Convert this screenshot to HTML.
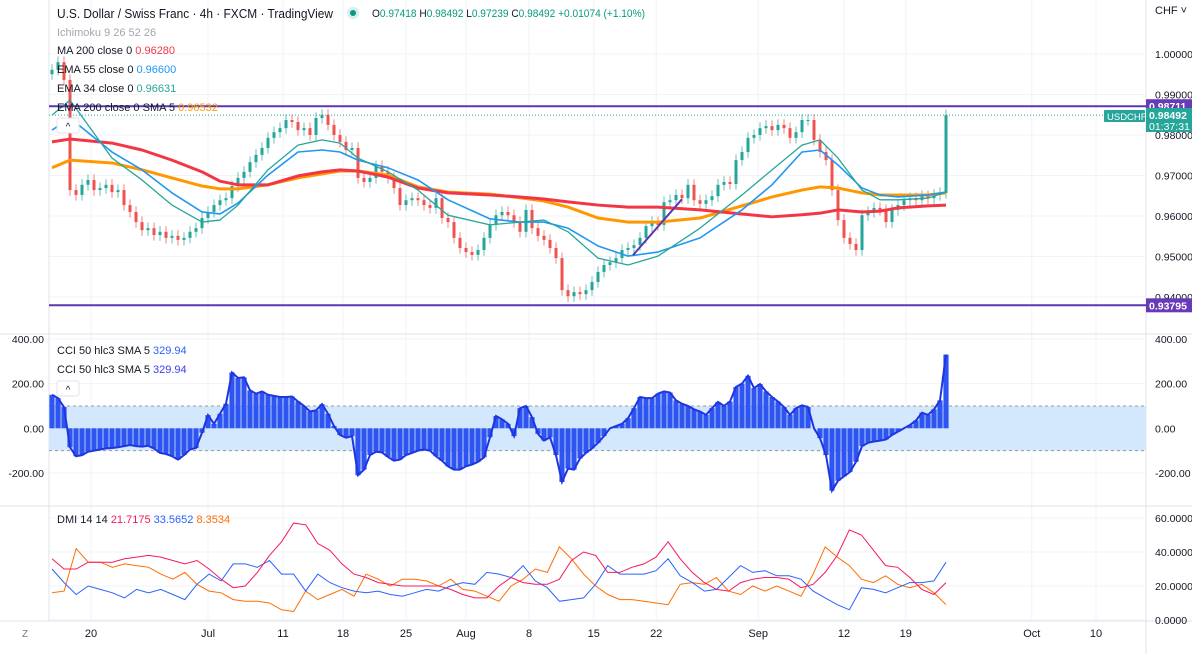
<!DOCTYPE html>
<html><head><meta charset="utf-8"><style>
html,body{margin:0;padding:0;background:#fff;}
svg{display:block;font-family:"Liberation Sans",sans-serif;}
</style></head><body>
<svg id="chart" width="1192" height="654" viewBox="0 0 1192 654" xmlns="http://www.w3.org/2000/svg">
<rect x="0" y="0" width="1192" height="654" fill="#fff"/>
<g id="grid"></g>
<g id="cciBand"></g>
<g id="marks"></g>
<g id="overlay"></g>
</svg>
<script>
// ---------- DATA ----------
const closes = [.9961,.9980,.9936,.9664,.9652,.9677,.9689,.9664,.9669,.9677,.9659,.9664,.9627,.9610,.9585,.9565,.9570,.9553,.9561,.9546,
.9551,.9541,.9546,.9561,.9570,.9595,.9610,.9627,.9639,.9644,.9674,.9694,.9709,.9733,.9751,.9768,.9793,.9807,.9817,.9837,
.9832,.9812,.9817,.9800,.9842,.9850,.9825,.9800,.9783,.9763,.9768,.9694,.9684,.9694,.9723,.9709,.9694,.9669,.9627,.9639,
.9644,.9639,.9627,.9620,.9644,.9595,.9585,.9546,.9521,.9511,.9504,.9516,.9546,.9578,.9602,.9610,.9602,.9585,.9561,.9615,
.9570,.9551,.9541,.9521,.9496,.9417,.9402,.9412,.9407,.9417,.9437,.9462,.9479,.9486,.9496,.9516,.9521,.9528,.9546,.9575,
.9585,.9578,.9634,.9639,.9652,.9644,.9677,.9639,.9630,.9639,.9649,.9677,.9684,.9679,.9738,.9758,.9793,.9800,.9817,.9822,
.9812,.9825,.9817,.9793,.9807,.9837,.9837,.9788,.9758,.9738,.9664,.9590,.9546,.9531,.9516,.9602,.9610,.9620,.9615,.9585,
.9615,.9627,.9639,.9644,.9639,.9649,.9644,.9652,.9657,.9849];
const firstOpen = 0.9950;
const cci = [150,135,95,-85,-125,-120,-105,-100,-95,-90,-88,-85,-80,-75,-80,-82,-78,-90,-110,-115,
-125,-140,-120,-95,-88,-20,59,20,65,110,250,225,228,170,155,165,150,145,140,140,
142,120,100,75,80,108,65,10,-30,-42,-35,-210,-185,-120,-105,-108,-128,-145,-140,-120,
-110,-100,-95,-100,-125,-145,-170,-185,-185,-170,-162,-150,-130,-40,55,40,20,-35,90,100,
50,-25,-55,-40,-120,-240,-180,-185,-135,-110,-90,-65,-35,0,10,20,45,90,140,135,
135,155,165,160,125,110,100,85,75,60,90,118,100,120,185,200,235,180,198,165,
140,120,95,60,90,103,95,0,-44,-120,-279,-235,-215,-195,-150,-80,-65,-59,-55,-50,
-30,-15,0,15,35,70,60,85,125,330];
const dmiRed = [36,30,30,34,34,34,36,37,38,37,35,33,35,30,24,19,20,28,38,46,57,56,45,41,33,27,25,22,21,20,20,20,20,18,15,13,13,20,25,22,21,21,24,35,40,38,28,28,31,33,37,46,36,28,22,18,17,22,24,25,25,24,19,21,28,38,53,50,41,32,31,25,18,15,22];
const dmiBlue = [30,22,15,20,18,16,13,18,16,18,15,12,21,27,23,33,33,31,35,27,27,17,27,22,19,17,16,17,15,14,16,18,17,20,22,21,28,27,25,32,23,19,11,12,13,21,32,27,27,27,29,36,26,22,17,18,25,32,28,29,26,26,24,17,13,9,6,19,18,16,19,22,22,23,34];
const dmiOrange = [16,17,42,34,34,31,33,32,31,27,24,28,21,17,16,12,11,11,10,6,5,17,12,15,18,14,27,24,20,24,24,23,20,24,18,17,14,11,20,24,30,28,43,36,27,20,15,12,12,11,10,9,21,22,21,25,17,15,20,17,20,17,14,27,43,37,32,24,22,26,21,19,21,16,9];
const maBars = [0,3,10,15,20,25,28,31,36,41,45,48,51,56,61,66,73,78,82,86,91,96,101,108,115,120,125,128,131,135,138,141,146,149];
const ma200 = [.9783,.9790,.9780,.9763,.9738,.9709,.9686,.9677,.9677,.9699,.9709,.9714,.9711,.9696,.9669,.9657,.9652,.9647,.9642,.9635,.9627,.9622,.9622,.9615,.9605,.9598,.9603,.9607,.9615,.9610,.9612,.9620,.9625,.9627];
const ema200sma = [.9719,.9738,.9731,.9714,.9694,.9674,.9667,.9667,.9677,.9694,.9704,.9711,.9711,.9701,.9672,.9659,.9654,.9645,.9637,.9622,.9595,.9585,.9585,.9595,.9625,.9647,.9664,.9672,.9669,.9657,.9652,.9652,.9652,.9657];
const ema55 = [.9812,.9842,.9758,.9714,.9657,.9610,.9605,.9632,.9701,.9758,.9763,.9758,.9738,.9719,.9689,.9640,.9593,.9585,.9585,.9570,.9526,.9501,.9511,.9546,.9615,.9677,.9758,.9763,.9726,.9669,.9652,.9647,.9652,.9659];
const ema34 = [.9849,.9886,.9743,.9689,.9627,.9585,.9590,.9627,.9714,.9775,.9788,.9780,.9743,.9709,.9664,.9602,.9578,.9585,.9590,.9561,.9496,.9479,.9501,.9570,.9652,.9714,.9775,.9788,.9743,.9664,.9640,.9640,.9644,.9659];
const priceTicks = [1.00,0.99,0.98,0.97,0.96,0.95,0.94];
const cciTicks = [400,200,0,-200];
const dmiTicks = [60,40,20,0];
const timeLabels = ["20","Jul","11","18","25","Aug","8","15","22","Sep","12","19","Oct","10"];
const timeBarPos = [6.5,26,38.5,48.5,59,69,79.5,90.3,100.7,117.7,132,142.3,163.3,174];
const hLevels = [0.98711,0.93795];
const lastPrice = 0.98492;

// ---------- SCALES ----------
const X0=49, XR=1146;
const bx = i => 52 + i*6;
const py = p => 54 + (1.0 - p)*4050;
const cy = v => 428.3 - v*0.2235;
const dy = v => 620 - v*1.7;
const dx = k => 52 + k*(946-52)/(dmiRed.length-1);
const NS="http://www.w3.org/2000/svg";
function el(tag, attrs, parent){const e=document.createElementNS(NS,tag);for(const k in attrs)e.setAttribute(k,attrs[k]);parent.appendChild(e);return e;}
const grid=document.getElementById('grid'), band=document.getElementById('cciBand'), marks=document.getElementById('marks'), ov=document.getElementById('overlay');

timeBarPos.forEach((b,i)=>{
  const l=el('line',{x1:bx(b),x2:bx(b),y1:0,y2:621,stroke:'#f0f3fa','stroke-width':1},grid);
  
  
  const t=el('text',{x:bx(b),y:637,'font-size':11,fill:'#131722','text-anchor':'middle'},ov);
  t.textContent=timeLabels[i];
  
  
});
priceTicks.forEach(p=>{
  el('line',{x1:X0,x2:XR,y1:py(p),y2:py(p),stroke:'#f0f3fa'},grid);
  const t=el('text',{x:1155,y:py(p)+4,'font-size':10.5,fill:'#131722'},ov);
  t.textContent=p.toFixed(5);
  
  
});
cciTicks.forEach(v=>{
  el('line',{x1:X0,x2:XR,y1:cy(v),y2:cy(v),stroke:'#f0f3fa'},grid);
  const t=el('text',{x:1155,y:cy(v)+4,'font-size':10.5,fill:'#131722'},ov);
  t.textContent=v.toFixed(2);
  
  
  const t2=el('text',{x:44,y:cy(v)+4,'font-size':10.5,fill:'#131722','text-anchor':'end'},ov);
  t2.textContent=v.toFixed(2);
  
  
});
dmiTicks.forEach(v=>{
  el('line',{x1:X0,x2:XR,y1:dy(v),y2:dy(v),stroke:'#f0f3fa'},grid);
  const t=el('text',{x:1155,y:dy(v)+4,'font-size':10.5,fill:'#131722'},ov);
  t.textContent=v.toFixed(4);
  
  
});
[[X0,0,X0,621],[XR,0,XR,654],[0,334,1192,334],[0,506,1192,506],[0,621,1192,621]].forEach(a=>{
  el('line',{x1:a[0],y1:a[1],x2:a[2],y2:a[3],stroke:'#e0e3eb'},grid);
});

const bd=el('rect',{x:X0,y:cy(100),width:XR-X0,height:cy(-100)-cy(100),fill:'#d3e8fc'},band);


[100,-100].forEach(v=>{el('line',{x1:X0,x2:XR,y1:cy(v),y2:cy(v),stroke:'#9598a1','stroke-dasharray':'3,3'},band);});

closes.forEach((c,i)=>{
  const o = i===0?firstOpen:closes[i-1];
  const hi=Math.max(o,c)+0.0014, lo=Math.min(o,c)-0.0014;
  const col = c>=o?'#26a69a':'#ef5350';
  const w=el('line',{x1:bx(i),x2:bx(i),y1:py(hi),y2:py(lo),stroke:col,'stroke-width':1,opacity:0.7},marks);
  
  
  const top=Math.min(py(o),py(c)), h=Math.max(1,Math.abs(py(o)-py(c)));
  const b=el('rect',{x:bx(i)-1.5,y:top,width:3,height:h,fill:col},marks);
  
  
});
function maLine(arr,color,w,name){
  const pts=arr.map((v,k)=>bx(maBars[k])+','+py(v)).join(' ');
  const l=el('polyline',{points:pts,fill:'none',stroke:color,'stroke-width':w,'stroke-linejoin':'round'},marks);
  
  
}
maLine(ema200sma,'#ff9800',3,'ema200-sma5-line');
maLine(ma200,'#f23645',3,'ma200-line');
maLine(ema55,'#2196f3',1.6,'ema55-line');
maLine(ema34,'#26a69a',1.3,'ema34-line');

hLevels.forEach(p=>{
  const l=el('line',{x1:X0,x2:XR,y1:py(p),y2:py(p),stroke:'#5e35b1','stroke-width':2},marks);
  
  
  const r=el('rect',{x:XR,y:py(p)-7,width:46,height:14,fill:'#673ab7'},ov);
  
  
  const t=el('text',{x:XR+3,y:py(p)+4,'font-size':10.5,fill:'#fff','font-weight':'bold'},ov);
  t.textContent=p.toFixed(5);
  
  
});
const tl=el('line',{x1:633,y1:py(closes[97])+10,x2:682,y2:py(closes[105])+1,stroke:'#5e35b1','stroke-width':2},marks);


const lp=el('line',{x1:X0,x2:XR,y1:py(lastPrice),y2:py(lastPrice),stroke:'#26a69a','stroke-dasharray':'1,2'},marks);



cci.forEach((v,i)=>{
  const r=el('rect',{x:bx(i)-2.6,y:Math.min(cy(v),cy(0)),width:5.2,height:Math.abs(cy(v)-cy(0)),fill:'#2e55f2'},marks);
  
  
});
const cl=el('polyline',{points:cci.map((v,i)=>bx(i)+','+cy(v)).join(' '),fill:'none',stroke:'#1f35e0','stroke-width':2},marks);



[[dmiOrange,'#ff6d00','dmi-adx-line'],[dmiBlue,'#2962ff','dmi-plus-line'],[dmiRed,'#f7195a','dmi-minus-line']].forEach(s=>{
  const l=el('polyline',{points:s[0].map((v,k)=>dx(k)+','+dy(v)).join(' '),fill:'none',stroke:s[1],'stroke-width':1},marks);
  
  
});
</script>
<svg style="position:absolute;left:0;top:0" width="1192" height="654">
<g font-family="Liberation Sans, sans-serif">
<text x="57" y="18" font-size="13" fill="#131722" textLength="276" lengthAdjust="spacingAndGlyphs">U.S. Dollar / Swiss Franc · 4h · FXCM · TradingView</text>
<circle cx="353" cy="13" r="6" fill="#d6efec"/><circle cx="353" cy="13" r="3" fill="#089981"/>
<text x="372" y="17" font-size="11" fill="#089981" textLength="273" lengthAdjust="spacingAndGlyphs"><tspan fill="#131722">O</tspan>0.97418 <tspan fill="#131722">H</tspan>0.98492 <tspan fill="#131722">L</tspan>0.97239 <tspan fill="#131722">C</tspan>0.98492 +0.01074 (+1.10%)</text>
<text x="57" y="36" font-size="11" fill="#a3a6af">Ichimoku 9 26 52 26</text>
<text x="57" y="54" font-size="11" fill="#131722">MA 200 close 0 <tspan fill="#f23645">0.96280</tspan></text>
<text x="57" y="73" font-size="11" fill="#131722">EMA 55 close 0 <tspan fill="#2196f3">0.96600</tspan></text>
<text x="57" y="92" font-size="11" fill="#131722">EMA 34 close 0 <tspan fill="#26a69a">0.96631</tspan></text>
<text x="57" y="111" font-size="11" fill="#131722">EMA 200 close 0 SMA 5 <tspan fill="#ff9800">0.96532</tspan></text>
<rect x="57" y="118" width="22" height="15" rx="2" fill="#fff" stroke="#e0e3eb"/>
<text x="68" y="130" font-size="10" fill="#131722" text-anchor="middle">^</text>
<text x="57" y="354" font-size="11" fill="#131722">CCI 50 hlc3 SMA 5 <tspan fill="#2962ff">329.94</tspan></text>
<text x="57" y="373" font-size="11" fill="#131722">CCI 50 hlc3 SMA 5 <tspan fill="#3d3df5">329.94</tspan></text>
<rect x="57" y="381" width="22" height="15" rx="2" fill="#fff" stroke="#e0e3eb"/>
<text x="68" y="393" font-size="10" fill="#131722" text-anchor="middle">^</text>
<text x="57" y="523" font-size="11" fill="#131722">DMI 14 14 <tspan fill="#f7195a">21.7175</tspan> <tspan fill="#2962ff">33.5652</tspan> <tspan fill="#ff6d00">8.3534</tspan></text>
<text x="1155" y="14" font-size="11" fill="#131722">CHF ˅</text>
<rect x="1104" y="110" width="41" height="12" rx="1" fill="#26a69a"/>
<text x="1107" y="120" font-size="9.5" fill="#fff">USDCHF</text>
<rect x="1146" y="108" width="46" height="24" fill="#26a69a"/>
<text x="1149" y="119" font-size="10.5" fill="#fff" font-weight="bold">0.98492</text>
<text x="1149" y="130" font-size="10.5" fill="#fff">01:37:31</text>
<text x="22" y="637" font-size="10" fill="#787b86">Z</text>
</g>
</svg>
</body></html>
